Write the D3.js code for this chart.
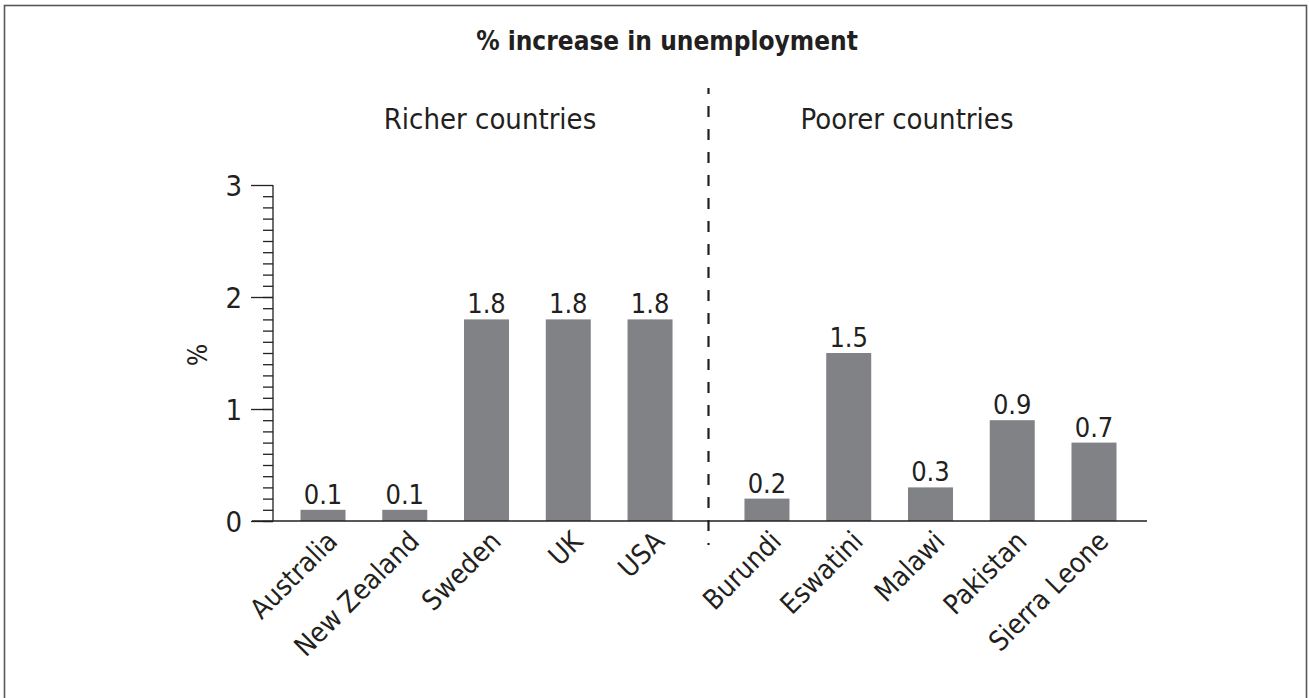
<!doctype html>
<html lang="en">
<head>
    <meta charset="UTF-8">
    <title>% increase in unemployment</title>
    <style>
        body { margin: 0; background: #fff; }
        text { font-family: "DejaVu Sans Condensed", "DejaVu Sans", sans-serif; font-stretch: condensed; fill: #231f20; }
    </style>
</head>
<body>
<svg id="chart" width="1309" height="698"></svg>
<script src="https://d3js.org/d3.v7.min.js"></script>
<script>
    let countries = ["Australia", "New Zealand", "Sweden", "UK", "USA",
        "Burundi", "Eswatini", "Malawi", "Pakistan", "Sierra Leone"];
    let groups = ["Richer countries", "Poorer countries"];
    let groupOf = [0, 0, 0, 0, 0, 1, 1, 1, 1, 1];
    let values = [0.1, 0.1, 1.8, 1.8, 1.8, 0.2, 1.5, 0.3, 0.9, 0.7];
    let yTicks = [0, 1, 2, 3];

    let data = countries.map((c, i) => ({name: c, value: values[i], group: groupOf[i], slot: i + 0.43 * groupOf[i]}));

    let svg = d3.select("#chart");
    const barColor = "#818285";
    const barWidth = 45;
    const ink = "#231f20";

    // frame (bottom edge is cut off in the original)
    svg.append("rect")
        .attr("x", 4.5).attr("y", 5.5)
        .attr("width", 1302).attr("height", 710)
        .attr("fill", "none")
        .attr("stroke", "#58585a")
        .attr("stroke-width", 1.6);

    let x = d3.scaleLinear()
        .domain([0, d3.max(data, d => d.slot)])
        .range([323, 1094]);

    let y = d3.scaleLinear()
        .domain([0, 3])
        .range([521, 185]);

    // bars
    svg.append("g")
        .selectAll("rect")
        .data(data)
        .enter().append("rect")
        .attr("x", d => x(d.slot) - barWidth / 2)
        .attr("y", d => y(d.value))
        .attr("width", barWidth)
        .attr("height", d => y(0) - y(d.value))
        .attr("fill", barColor);

    // value labels
    svg.append("g")
        .selectAll("text")
        .data(data)
        .enter().append("text")
        .attr("x", d => x(d.slot))
        .attr("y", d => y(d.value) - 6)
        .attr("text-anchor", "middle")
        .attr("font-size", "27px")
        .text(d => d.value.toFixed(1));

    // y axis with minor ticks
    let yAxis = svg.append("g").attr("transform", "translate(273,0)");
    yAxis.call(d3.axisLeft(y).tickValues(d3.range(0, 30).map(v => v / 10)).tickSize(10).tickFormat(""));
    yAxis.call(g => g.select(".domain").remove());
    yAxis.selectAll(".tick line").attr("stroke", ink).attr("stroke-width", 1.3);

    let yMajor = svg.append("g").attr("transform", "translate(273,0)");
    yMajor.call(d3.axisLeft(y).tickValues(yTicks).tickSize(22).tickFormat(d3.format("d")).tickPadding(9));
    yMajor.attr("font-family", null);
    yMajor.select(".domain").attr("d", "M0," + y(3) + "V" + y(0)).attr("stroke", ink).attr("stroke-width", 1.3);
    yMajor.selectAll(".tick line").attr("stroke", ink).attr("stroke-width", 1.3);
    yMajor.selectAll(".tick text")
        .attr("font-size", "29px")
        .attr("fill", ink)
        .attr("dy", "0.36em");

    // x baseline
    svg.append("line")
        .attr("x1", 252).attr("x2", 1147)
        .attr("y1", y(0)).attr("y2", y(0))
        .attr("stroke", ink)
        .attr("stroke-width", 1.3);

    // category labels
    svg.append("g")
        .selectAll("text")
        .data(data)
        .enter().append("text")
        .attr("transform", d => "translate(" + (x(d.slot) + 16) + "," + (y(0) + 22) + ") rotate(-45)")
        .attr("text-anchor", "end")
        .attr("font-size", "27.5px")
        .text(d => d.name);

    // divider
    let divX = (x(4) + x(4.43 + 1)) / 2;
    svg.append("line")
        .attr("x1", divX).attr("x2", divX)
        .attr("y1", 88).attr("y2", 545)
        .attr("stroke", ink)
        .attr("stroke-width", 2.2)
        .attr("stroke-dasharray", "11,12")
        .attr("stroke-dashoffset", 5);

    // group headings
    svg.append("g")
        .selectAll("text")
        .data(groups)
        .enter().append("text")
        .attr("x", (d, i) => i === 0 ? 490 : 907)
        .attr("y", 129)
        .attr("text-anchor", "middle")
        .attr("font-size", "29px")
        .text(d => d);

    // title
    svg.append("text")
        .attr("x", 667)
        .attr("y", 50)
        .attr("text-anchor", "middle")
        .attr("font-size", "26px")
        .attr("font-weight", "bold")
        .text("% increase in unemployment");

    // y axis title
    svg.append("text")
        .attr("transform", "translate(207,355) rotate(-90)")
        .attr("text-anchor", "middle")
        .attr("font-size", "26px")
        .text("%");
</script>
</body>
</html>
